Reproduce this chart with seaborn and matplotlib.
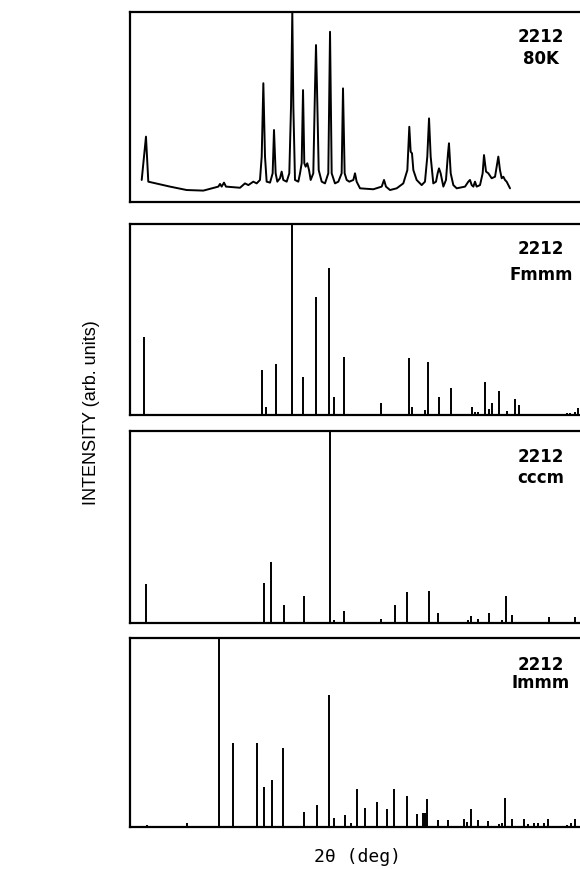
import matplotlib
matplotlib.use("Agg")
import matplotlib.pyplot as plt
import seaborn as sns
import pandas as pd

# ---- data (2theta in deg, intensity in arb. units, 0-100) ----
obs_2theta = [1.56, 2.13, 2.44, 5.33, 7.56, 9.78, 11.78, 12.0, 12.22, 12.53, 12.8, 14.67,
              15.33, 15.78, 16.44, 16.89, 17.33, 17.56, 17.78, 18.0, 18.22, 18.67, 19.02,
              19.2, 19.42, 19.64, 20.0, 20.22, 20.44, 20.89, 21.24, 21.47, 21.64, 21.78,
              22.0, 22.44, 22.67, 22.89, 23.07, 23.24, 23.42, 23.64, 23.87, 24.09, 24.44,
              24.67, 24.8, 24.93, 25.16, 25.56, 26.0, 26.44, 26.67, 26.89, 27.33, 27.78,
              28.22, 28.4, 28.62, 28.89, 29.24, 29.78, 30.0, 30.22, 30.67, 32.44, 33.56,
              33.87, 34.13, 34.67, 35.56, 36.44, 36.98, 37.24, 37.42, 37.6, 37.78, 38.22,
              38.89, 39.33, 39.64, 39.87, 40.09, 40.44, 40.8, 41.02, 41.2, 41.42, 41.78,
              42.13, 42.4, 42.53, 42.76, 43.11, 43.56, 44.67, 45.11, 45.33, 45.56, 45.78,
              46.0, 46.22, 46.67, 47.02, 47.2, 47.47, 47.78, 48.22, 48.67, 48.89, 49.11,
              49.33, 49.56, 49.78, 50.0, 50.22, 50.67]
obs_int = [11.6, 34.4, 10.7, 8.1, 6.3, 6.0, 8.1, 9.5, 8.1, 10.2, 8.1, 7.5,
           9.8, 8.9, 10.7, 9.8, 11.6, 23.9, 62.5, 23.9, 10.7, 10.2, 15.1,
           37.9, 15.1, 10.7, 12.5, 16.0, 11.6, 10.7, 15.1, 50.2, 100.0, 50.2,
           11.6, 10.7, 15.1, 20.4, 58.9, 20.4, 18.6, 20.4, 16.8, 11.6, 15.1,
           60.7, 82.6, 60.7, 16.8, 10.7, 9.8, 15.1, 89.6, 15.1, 9.8, 10.7,
           15.1, 59.8, 15.1, 11.6, 10.7, 11.6, 15.1, 10.7, 7.2, 6.7, 8.1,
           11.6, 8.1, 6.3, 7.2, 9.8, 16.8, 39.6, 26.5, 25.6, 16.8, 11.6,
           8.9, 10.7, 23.9, 44.0, 23.9, 9.8, 10.7, 15.1, 17.7, 15.1, 8.1,
           11.6, 25.6, 30.9, 15.1, 8.9, 7.2, 8.1, 10.7, 11.6, 8.9, 8.1,
           10.7, 8.1, 8.9, 15.1, 24.7, 16.0, 15.1, 12.5, 13.3, 18.6, 23.9,
           16.8, 12.5, 13.3, 11.6, 10.7, 7.2]

fmmm_2theta = [1.91, 17.56, 18.09, 19.42, 21.64, 23.02, 24.84, 26.58, 27.16, 28.58, 33.51,
               37.16, 37.6, 39.33, 39.78, 41.16, 42.8, 45.56, 46.0, 46.44, 47.33, 47.87,
               48.31, 49.24, 50.22, 51.38, 51.87, 58.2, 58.67, 59.3, 59.78]
fmmm_int = [41.0, 23.6, 4.0, 26.5, 100.0, 20.1, 62.0, 76.8, 9.6, 30.5, 6.5,
            29.7, 4.4, 2.6, 27.9, 9.2, 14.3, 4.0, 1.4, 1.4, 17.5, 3.1,
            6.1, 12.6, 2.3, 8.4, 5.2, 1.2, 1.2, 1.7, 3.8]

cccm_2theta = [2.13, 17.87, 18.76, 20.49, 23.2, 26.67, 27.16, 28.53, 33.47, 35.33, 36.98,
               39.33, 39.82, 41.11, 45.02, 45.51, 46.44, 47.91, 49.64, 50.09, 50.98,
               55.91, 59.38]
cccm_int = [20.3, 21.0, 31.6, 9.4, 14.2, 100.0, 1.6, 6.3, 1.9, 9.2, 16.0,
            0.7, 16.5, 5.4, 1.6, 3.8, 1.9, 5.0, 1.6, 14.1, 4.2,
            3.3, 3.3]

immm_2theta = [2.22, 7.64, 11.87, 13.78, 16.98, 17.91, 18.89, 20.44, 23.24, 24.98, 26.58,
               27.24, 28.62, 29.47, 30.31, 31.29, 32.93, 34.27, 35.16, 36.98, 38.31,
               39.07, 39.29, 39.64, 41.02, 42.4, 44.53, 44.93, 45.47, 46.36, 47.73,
               49.16, 49.56, 49.96, 50.89, 52.53, 53.11, 53.91, 54.4, 55.2, 55.78,
               58.22, 58.84, 59.38]
immm_int = [1.2, 2.3, 100.0, 44.2, 44.2, 21.2, 24.7, 41.9, 8.0, 11.8, 69.8,
            4.9, 6.5, 2.1, 20.0, 10.2, 13.3, 9.4, 20.3, 16.4, 6.7,
            7.4, 7.4, 15.0, 3.5, 3.5, 4.4, 2.7, 9.4, 3.5, 3.2,
            1.8, 2.1, 15.4, 4.1, 4.1, 1.8, 2.3, 2.1, 2.3, 4.1,
            1.2, 2.3, 4.4]

labels = [("2212", "80K"), ("2212", "Fmmm"), ("2212", "cccm"), ("2212", "Immm")]

# ---- figure ----
sns.set_theme(style="white")
plt.rcParams["font.family"] = ["Liberation Sans", "DejaVu Sans"]
plt.rcParams["text.color"] = "black"

W, H = 580, 869
fig = plt.figure(figsize=(W / 100, H / 100), dpi=100)

left_px, right_px = 130, 582
panels_px = [(12, 202), (224, 415), (431, 623), (638, 827)]
axes = []
for top, bot in panels_px:
    ax = fig.add_axes([left_px / W, 1 - bot / H, (right_px - left_px) / W, (bot - top) / H])
    axes.append(ax)

xmax = (right_px - left_px) / 7.5

# panel 1: measured profile
df_obs = pd.DataFrame({"two_theta": obs_2theta, "intensity": obs_int})
sns.lineplot(data=df_obs, x="two_theta", y="intensity", ax=axes[0],
             color="black", linewidth=1.4, sort=False)

# panels 2-4: calculated stick patterns
for ax, xs, ys in [(axes[1], fmmm_2theta, fmmm_int),
                   (axes[2], cccm_2theta, cccm_int),
                   (axes[3], immm_2theta, immm_int)]:
    ax.vlines(xs, 0, ys, color="black", linewidth=1.4)

text_y = [(0.87, 0.755), (0.87, 0.733), (0.865, 0.755), (0.857, 0.762)]
for ax, (l1, l2), (y1, y2) in zip(axes, labels, text_y):
    ax.set_xlim(0, xmax)
    ax.set_ylim(0, 100)
    ax.set_xticks([])
    ax.set_yticks([])
    ax.set_xlabel("")
    ax.set_ylabel("")
    for side in ["left", "top", "bottom"]:
        ax.spines[side].set_visible(True)
        ax.spines[side].set_color("black")
        ax.spines[side].set_linewidth(1.6)
    ax.spines["right"].set_visible(False)
    for txt, yy in ((l1, y1), (l2, y2)):
        ax.text(0.909, yy, txt, transform=ax.transAxes, ha="center", va="center",
                fontsize=12, fontweight="bold", color="black",
                family=["DejaVu Sans"])

fig.text(91 / W, 1 - 413 / H, "INTENSITY (arb. units)", rotation=90,
         ha="center", va="center", fontsize=13, color="black")
fig.text(357 / W, 1 - 857 / H, "2θ (deg)", ha="center", va="center",
         fontsize=13, color="black", family=["DejaVu Sans Mono"])

fig.savefig("out.png", dpi=100)
